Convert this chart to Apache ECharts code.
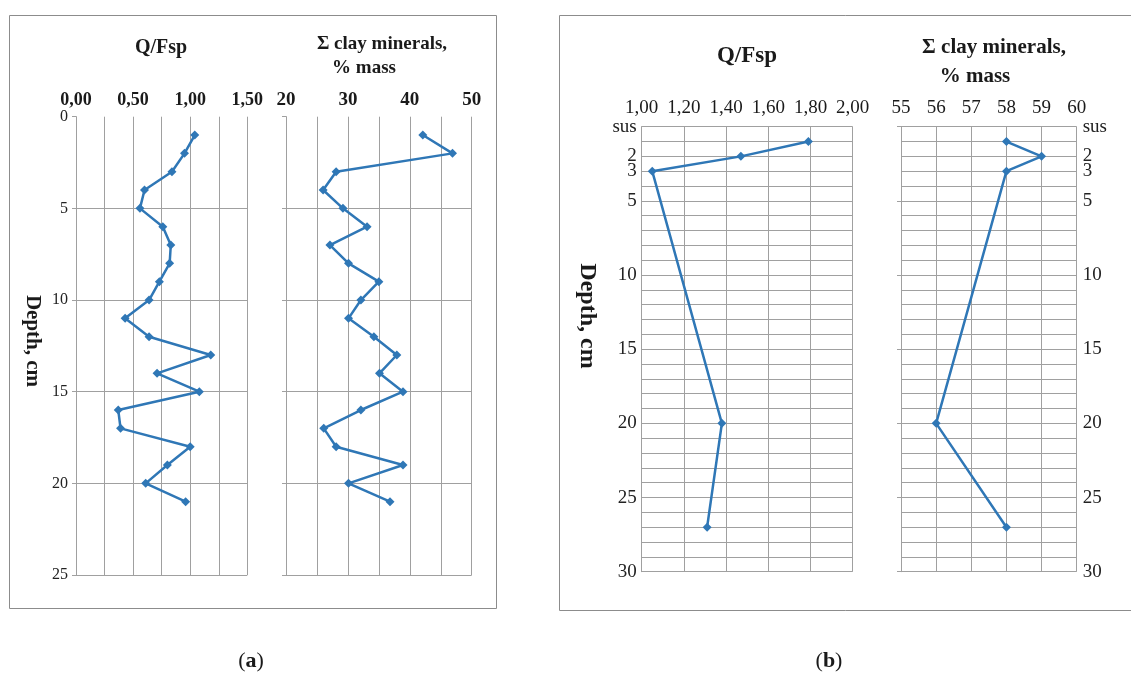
<!DOCTYPE html>
<html><head><meta charset="utf-8">
<script src="https://cdn.jsdelivr.net/npm/echarts@6/dist/echarts.min.js"></script>
<style>html,body{margin:0;padding:0;background:#fff}#c{width:1131px;height:675px}</style>
</head><body><div id="c"></div>
<script>
// ---- data: panel (a) ----
const depthA = [1,2,3,4,5,6,7,8,9,10,11,12,13,14,15,16,17,18,19,20,21];
const qfspA  = [1.04,0.95,0.84,0.60,0.56,0.76,0.83,0.82,0.73,0.64,0.43,0.64,1.18,0.71,1.08,0.37,0.39,1.00,0.80,0.61,0.96];
const clayA  = [42.1,46.9,28.1,26.0,29.2,33.1,27.1,30.1,35.0,32.1,30.1,34.2,37.9,35.1,38.9,32.1,26.1,28.1,38.9,30.1,36.8];
// ---- data: panel (b) ----
const depthB = [1,2,3,20,27];
const qfspB  = [1.79,1.47,1.05,1.38,1.31];
const clayB  = [58,59,58,56,58];
// ---- tick labels ----
const qfspTicksA = [0,0.5,1,1.5];
const clayTicksA = [20,30,40,50];
const depthTicksB = [0,2,3,5,10,15,20,25,30];
const depthTopLabelB = 'sus';
// ---- texts ----
const titleQ = 'Q/Fsp';
const titleClay1 = '\u03A3 clay minerals,';
const titleClay2 = '% mass';
const depthName = 'Depth, cm';

const SERIF = '"Liberation Serif", "DejaVu Serif", serif';
const GRID_C = '#a0a0a0';
const LINE_C = '#2f77b6';
const TXT = '#1a1a1a';
const fmtComma = v => (Math.round(v*100)/100).toFixed(2).replace('.', ',');
const pairs = (xs, ys) => xs.map((v,i)=>[v, ys[i]]);

const chart = echarts.init(document.getElementById('c'));

const splitL = {show:true, lineStyle:{color:GRID_C, width:1}};
const axLine = {show:true, lineStyle:{color:GRID_C, width:1}};
const tick = {show:true, length:4, lineStyle:{color:GRID_C}};

function lineSeries(data, xi, yi){
  return {type:'line', xAxisIndex:xi, yAxisIndex:yi, data:data,
    symbol:'diamond', symbolSize:9, showSymbol:true, animation:false,
    lineStyle:{color:LINE_C, width:2.5}, itemStyle:{color:LINE_C}};
}

const option = {
  animation:false,
  backgroundColor:'#fff',
  grid:[
    {left:76, top:116.7, width:171.3, height:458.3},
    {left:286, top:116.7, width:185.7, height:458.3},
    {left:641.7, top:126.7, width:211, height:445},
    {left:901, top:126.7, width:175.7, height:445}
  ],
  xAxis:[
    {gridIndex:0, type:'value', position:'top', min:0, max:1.5, interval:0.25,
     axisLine:{show:false}, axisTick:{show:false}, splitLine:splitL,
     axisLabel:{customValues:qfspTicksA, formatter:fmtComma, margin:7,
       fontFamily:SERIF, fontWeight:'bold', fontSize:18, color:TXT}},
    {gridIndex:1, type:'value', position:'top', min:20, max:50, interval:5,
     axisLine:{show:false}, axisTick:{show:false}, splitLine:splitL,
     axisLabel:{customValues:clayTicksA, margin:7,
       fontFamily:SERIF, fontWeight:'bold', fontSize:19, color:TXT}},
    {gridIndex:2, type:'value', position:'top', min:1, max:2, interval:0.2,
     axisLine:{show:false}, axisTick:{show:false}, splitLine:splitL,
     axisLabel:{formatter:fmtComma, margin:9,
       fontFamily:SERIF, fontSize:19, color:TXT}},
    {gridIndex:3, type:'value', position:'top', min:55, max:60, interval:1,
     axisLine:{show:false}, axisTick:{show:false}, splitLine:splitL,
     axisLabel:{margin:9, fontFamily:SERIF, fontSize:19, color:TXT}}
  ],
  yAxis:[
    {gridIndex:0, type:'value', inverse:true, min:0, max:25, interval:5, position:'left',
     axisLine:axLine, axisTick:tick, splitLine:Object.assign({showMinLine:false}, splitL),
     axisLabel:{margin:8, fontFamily:SERIF, fontSize:16, color:'#222'}},
    {gridIndex:1, type:'value', inverse:true, min:0, max:25, interval:5, position:'left',
     axisLine:axLine, axisTick:tick, splitLine:Object.assign({showMinLine:false}, splitL),
     axisLabel:{show:false}},
    {gridIndex:2, type:'value', inverse:true, min:0, max:30, interval:1, position:'left',
     axisLine:axLine, axisTick:{show:false}, splitLine:splitL,
     axisLabel:{customValues:depthTicksB, formatter:v=> v===0 ? depthTopLabelB : String(v),
       margin:5, fontFamily:SERIF, fontSize:19, color:'#222'}},
    {gridIndex:3, type:'value', inverse:true, min:0, max:30, interval:5, position:'left',
     axisLine:axLine, axisTick:tick, splitLine:{show:false}, axisLabel:{show:false}},
    {gridIndex:3, type:'value', inverse:true, min:0, max:30, interval:1, position:'right',
     axisLine:{show:false}, axisTick:{show:false}, splitLine:splitL,
     axisLabel:{customValues:depthTicksB, formatter:v=> v===0 ? depthTopLabelB : String(v),
       margin:6, fontFamily:SERIF, fontSize:19, color:'#222'}}
  ],
  series:[
    lineSeries(pairs(qfspA, depthA), 0, 0),
    lineSeries(pairs(clayA, depthA), 1, 1),
    lineSeries(pairs(qfspB, depthB), 2, 2),
    lineSeries(pairs(clayB, depthB), 3, 3)
  ],
  graphic:[
    {type:'rect', shape:{x:9.5, y:15.5, width:487, height:593}, silent:true,
     style:{fill:null, stroke:'#8c8c8c', lineWidth:1}},
    {type:'rect', shape:{x:559.5, y:15.5, width:620, height:595}, silent:true,
     style:{fill:null, stroke:'#8c8c8c', lineWidth:1}},
    {type:'text', x:161, y:48, style:{text:titleQ, textAlign:'center', textVerticalAlign:'middle',
      font:'bold 20px '+SERIF, fill:TXT}},
    {type:'text', x:382, y:44, style:{text:titleClay1, textAlign:'center', textVerticalAlign:'middle',
      font:'bold 19px '+SERIF, fill:TXT}},
    {type:'text', x:364, y:68, style:{text:titleClay2, textAlign:'center', textVerticalAlign:'middle',
      font:'bold 19px '+SERIF, fill:TXT}},
    {type:'text', x:747, y:56, style:{text:titleQ, textAlign:'center', textVerticalAlign:'middle',
      font:'bold 23px '+SERIF, fill:TXT}},
    {type:'text', x:994, y:48, style:{text:titleClay1, textAlign:'center', textVerticalAlign:'middle',
      font:'bold 21px '+SERIF, fill:TXT}},
    {type:'text', x:975, y:77, style:{text:titleClay2, textAlign:'center', textVerticalAlign:'middle',
      font:'bold 21px '+SERIF, fill:TXT}},
    {type:'text', x:32, y:341, rotation:-Math.PI/2, style:{text:depthName, textAlign:'center',
      textVerticalAlign:'middle', font:'bold 21px '+SERIF, fill:TXT}},
    {type:'text', x:587, y:316, rotation:-Math.PI/2, style:{text:depthName, textAlign:'center',
      textVerticalAlign:'middle', font:'bold 24px '+SERIF, fill:TXT}},
    {type:'text', x:251, y:661, style:{text:'{p|(}{b|a}{p|)}', textAlign:'center', textVerticalAlign:'middle',
      rich:{p:{fontFamily:SERIF, fontSize:22, fill:TXT}, b:{fontFamily:SERIF, fontSize:22, fontWeight:'bold', fill:TXT}}}},
    {type:'text', x:829, y:661, style:{text:'{p|(}{b|b}{p|)}', textAlign:'center', textVerticalAlign:'middle',
      rich:{p:{fontFamily:SERIF, fontSize:22, fill:TXT}, b:{fontFamily:SERIF, fontSize:22, fontWeight:'bold', fill:TXT}}}}
  ]
};
chart.setOption(option);
</script>
</body></html>
